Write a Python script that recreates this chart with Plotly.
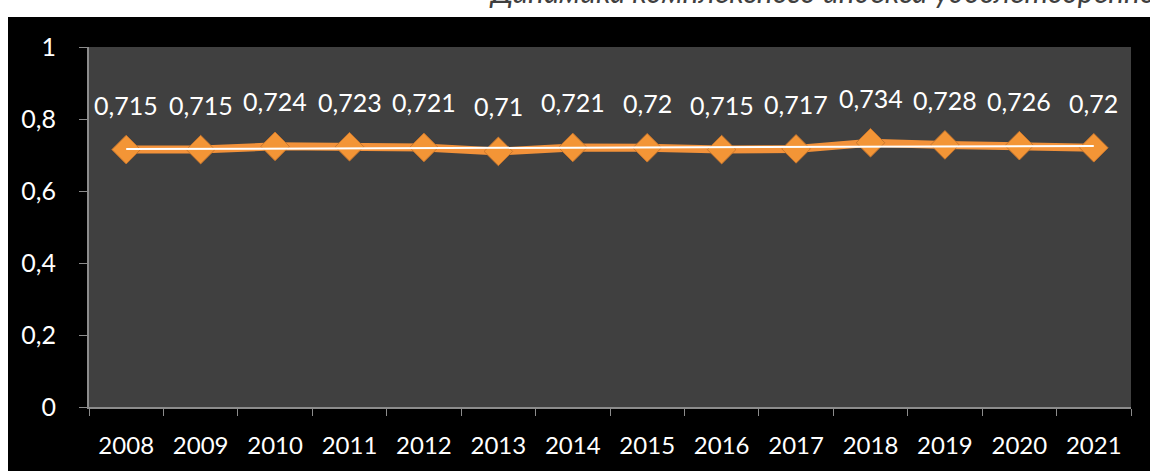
import plotly.graph_objects as go

years = ["2008", "2009", "2010", "2011", "2012", "2013", "2014",
         "2015", "2016", "2017", "2018", "2019", "2020", "2021"]
index_values = [0.715, 0.715, 0.724, 0.723, 0.721, 0.71, 0.721,
                0.72, 0.715, 0.717, 0.734, 0.728, 0.726, 0.72]
trend_values = [0.7165, 0.7248]   # linear trendline endpoints (2008, 2021)
y_tick_vals = [0, 0.2, 0.4, 0.6, 0.8, 1]
y_tick_text = ["0", "0,2", "0,4", "0,6", "0,8", "1"]
title_text = "Динамика комплексного индекса удовлетворенности"

W, H = 1150, 471
L, R, T, B = 89, 19, 47, 64
PW, PH = W - L - R, H - T - B

def px_x(p):
    return (p - L) / PW

def px_y(p):
    return (H - B - p) / PH

FONT = "Lato"
ORANGE = "#F3923A"

fig = go.Figure()

fig.add_trace(go.Scatter(
    x=years, y=index_values, mode="lines+markers",
    line=dict(color=ORANGE, width=8),
    marker=dict(symbol="diamond", size=22, color="#F39536",
                line=dict(color="#C9772E", width=1)),
    showlegend=False, hoverinfo="skip",
))

fig.add_trace(go.Scatter(
    x=[years[0], years[-1]], y=trend_values, mode="lines",
    line=dict(color="white", width=2),
    showlegend=False, hoverinfo="skip",
))

for i, v in enumerate(index_values):
    fig.add_annotation(
        x=i, y=v, xref="x", yref="y", text=str(v).replace(".", ","),
        showarrow=False, yshift=45,
        font=dict(family=FONT, size=25, color="white"),
    )

# title (partly cut off at top)
fig.add_annotation(
    xref="paper", yref="paper", x=px_x(487), y=px_y(-9),
    xanchor="left", yanchor="middle", showarrow=False,
    text="<i>" + title_text + "</i>",
    font=dict(family=FONT, size=30, color="#3F3F3F"),
)

# white margins outside the black chart area
fig.add_shape(type="rect", xref="paper", yref="paper",
              x0=px_x(-10), x1=px_x(W + 10), y0=px_y(17), y1=px_y(-10),
              fillcolor="white", line=dict(width=0), layer="below")
fig.add_shape(type="rect", xref="paper", yref="paper",
              x0=px_x(-10), x1=px_x(8), y0=px_y(H + 10), y1=px_y(-10),
              fillcolor="white", line=dict(width=0), layer="below")

fig.update_layout(
    width=W, height=H,
    margin=dict(l=L, r=R, t=T, b=B),
    paper_bgcolor="black",
    plot_bgcolor="#404040",
    font=dict(family=FONT, color="white"),
    xaxis=dict(
        type="category", tickson="boundaries",
        showline=True, linecolor="#8C8C8C", linewidth=2,
        ticks="outside", ticklen=7, tickcolor="#8C8C8C", tickwidth=1,
        showgrid=False, zeroline=False,
        tickfont=dict(family=FONT, size=24, color="white"),
        ticklabelstandoff=16,
        range=[-0.5, len(years) - 0.5],
    ),
    yaxis=dict(
        range=[0, 1], tickvals=y_tick_vals, ticktext=y_tick_text,
        showline=True, linecolor="#8C8C8C", linewidth=2,
        ticks="outside", ticklen=8, tickcolor="#8C8C8C", tickwidth=1,
        showgrid=False, zeroline=False,
        tickfont=dict(family=FONT, size=25, color="white"),
        ticklabelstandoff=18,
    ),
)

fig.write_html(
    "out.html",
    config={"displayModeBar": False},
    post_script="document.body.style.margin='0';document.body.style.overflow='hidden';",
)
